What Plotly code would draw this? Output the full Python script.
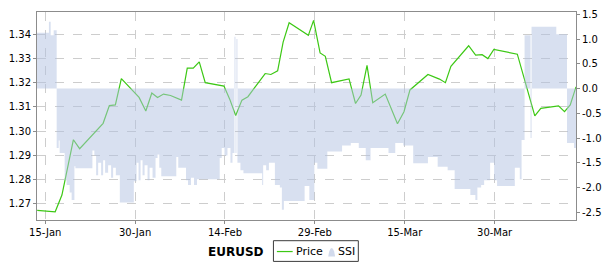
import plotly.graph_objects as go

# ---------------- data ----------------
price_time = [
    "2012-01-13 16:00", "2012-01-16 16:00", "2012-01-17 19:00", "2012-01-19 17:00",
    "2012-01-20 18:00", "2012-01-24 16:00", "2012-01-25 17:00", "2012-01-26 17:00",
    "2012-01-27 17:00", "2012-01-30 16:00", "2012-01-31 19:00", "2012-02-01 19:00",
    "2012-02-02 18:00", "2012-02-03 18:00", "2012-02-04 22:00", "2012-02-06 18:00",
    "2012-02-07 17:00", "2012-02-08 17:00", "2012-02-09 17:00", "2012-02-10 17:00",
    "2012-02-13 20:00", "2012-02-14 19:00", "2012-02-15 19:00", "2012-02-16 20:00",
    "2012-02-17 20:00", "2012-02-20 17:00", "2012-02-21 16:00", "2012-02-22 19:00",
    "2012-02-23 17:00", "2012-02-24 17:00", "2012-02-27 22:00", "2012-02-28 19:00",
    "2012-02-29 21:00", "2012-03-01 18:00", "2012-03-02 19:00", "2012-03-05 17:00",
    "2012-03-06 19:00", "2012-03-07 17:00", "2012-03-08 17:00", "2012-03-09 16:00",
    "2012-03-11 18:00", "2012-03-12 18:00", "2012-03-13 19:00", "2012-03-14 21:00",
    "2012-03-15 21:00", "2012-03-18 21:00", "2012-03-20 19:00", "2012-03-21 19:00",
    "2012-03-22 17:00", "2012-03-25 16:00", "2012-03-26 20:00", "2012-03-27 22:00",
    "2012-03-28 21:00", "2012-03-29 21:00", "2012-04-02 19:00", "2012-04-05 17:00",
    "2012-04-06 17:00", "2012-04-09 16:00", "2012-04-10 16:00", "2012-04-11 15:00",
    "2012-04-12 14:00",
]
price_value = [
    1.2672, 1.2666, 1.2735, 1.2964, 1.2927, 1.3032, 1.3105, 1.3108,
    1.3217, 1.3139, 1.3083, 1.3157, 1.3139, 1.3153, 1.3147, 1.3128,
    1.3260, 1.3260, 1.3286, 1.3200, 1.3186, 1.3132, 1.3064, 1.3128,
    1.3142, 1.3238, 1.3234, 1.3249, 1.3368, 1.3448, 1.3396, 1.3458,
    1.3323, 1.3309, 1.3200, 1.3216, 1.3114, 1.3149, 1.3272, 1.3117,
    1.3153, 1.3094, 1.3030, 1.3080, 1.3170, 1.3234, 1.3215, 1.3200,
    1.3268, 1.3353, 1.3314, 1.3316, 1.3300, 1.3338, 1.3318, 1.3063,
    1.3094, 1.3104, 1.3080, 1.3108, 1.3183,
]

ssi_time = [
    "2012-01-13 15:00", "2012-01-15 15:00", "2012-01-15 22:00", "2012-01-16 10:00",
    "2012-01-16 22:00", "2012-01-17 06:00", "2012-01-17 10:00", "2012-01-18 06:00",
    "2012-01-18 14:00", "2012-01-19 02:00", "2012-01-19 10:00", "2012-01-19 21:00",
    "2012-01-20 01:00", "2012-01-22 21:00", "2012-01-23 05:00", "2012-01-23 12:00",
    "2012-01-23 20:00", "2012-01-24 08:00", "2012-01-24 16:00", "2012-01-25 00:00",
    "2012-01-25 12:00", "2012-01-26 00:00", "2012-01-26 08:00", "2012-01-26 19:00",
    "2012-01-27 11:00", "2012-01-29 19:00", "2012-01-30 06:00", "2012-01-30 14:00",
    "2012-01-30 22:00", "2012-01-31 06:00", "2012-01-31 14:00", "2012-02-01 02:00",
    "2012-02-01 10:00", "2012-02-01 22:00", "2012-02-02 10:00", "2012-02-02 18:00",
    "2012-02-03 01:00", "2012-02-03 09:00", "2012-02-05 21:00", "2012-02-06 05:00",
    "2012-02-07 12:00", "2012-02-07 20:00", "2012-02-08 08:00", "2012-02-08 20:00",
    "2012-02-09 08:00", "2012-02-13 03:00", "2012-02-13 11:00", "2012-02-13 22:00",
    "2012-02-14 10:00", "2012-02-14 22:00", "2012-02-15 06:00", "2012-02-15 14:00",
    "2012-02-15 18:00", "2012-02-15 22:00", "2012-02-16 02:00", "2012-02-16 14:00",
    "2012-02-17 02:00", "2012-02-20 05:00", "2012-02-20 09:00", "2012-02-20 21:00",
    "2012-02-21 08:00", "2012-02-22 08:00", "2012-02-23 04:00", "2012-02-23 12:00",
    "2012-02-23 20:00", "2012-02-27 07:00", "2012-02-28 02:00", "2012-02-28 22:00",
    "2012-02-29 10:00", "2012-03-02 02:00", "2012-03-04 13:00", "2012-03-06 00:00",
    "2012-03-07 08:00", "2012-03-08 12:00", "2012-03-09 07:00", "2012-03-12 07:00",
    "2012-03-13 10:00", "2012-03-14 18:00", "2012-03-16 10:00", "2012-03-18 21:00",
    "2012-03-20 12:00", "2012-03-22 04:00", "2012-03-23 08:00", "2012-03-25 23:00",
    "2012-03-26 19:00", "2012-03-27 03:00", "2012-03-27 18:00", "2012-03-28 06:00",
    "2012-03-29 06:00", "2012-03-29 22:00", "2012-03-30 10:00", "2012-04-02 09:00",
    "2012-04-03 05:00", "2012-04-03 12:00", "2012-04-04 00:00", "2012-04-05 00:00",
    "2012-04-05 04:00", "2012-04-09 07:00", "2012-04-11 02:00", "2012-04-12 06:00",
    "2012-04-12 14:00",
]
ssi_value = [
    1.13, 1.35, 1.08, 1.18,
    -1.20, -1.05, -1.30, -1.85,
    -1.95, -2.10, -2.25, -1.57,
    -1.61, -1.25, -1.35, -1.75,
    -1.50, -1.75, -1.45, -1.70,
    -1.55, -1.80, -1.60, -1.75,
    -2.30, -1.87, -1.50, -1.85,
    -1.45, -1.75, -1.55, -1.85,
    -1.60, -1.80, -1.40, -1.33,
    -1.60, -1.77, -1.38, -1.60,
    -1.85, -1.95, -1.80, -1.95,
    -1.83, -1.40, -1.20, -1.35,
    -1.20, -1.50, -1.30, 1.05,
    -1.30, 1.00, -1.50, -1.65,
    -1.71, -1.95, -1.55, -1.65,
    -1.50, -1.95, -2.00, -2.45,
    -2.27, -1.97, -2.25, -1.50,
    -1.62, -1.27, -1.15, -1.10,
    -1.20, -1.45, -1.20, -1.30,
    -1.10, -1.15, -1.51, -1.38,
    -1.58, -1.65, -2.03, -2.15,
    -2.25, -2.00, -1.95, -1.85,
    -1.50, -1.85, -1.97, -1.60,
    -1.83, -1.04, 1.08, -1.00,
    1.25, 1.10, -1.10, -1.20,
    -1.20,
]

x_tick_vals = ["2012-01-15", "2012-01-30", "2012-02-14", "2012-02-29", "2012-03-15", "2012-03-30"]
x_tick_text = ["15-Jan", "30-Jan", "14-Feb", "29-Feb", "15-Mar", "30-Mar"]
price_ticks = [1.27, 1.28, 1.29, 1.30, 1.31, 1.32, 1.33, 1.34]
ssi_ticks = [-2.5, -2.0, -1.5, -1.0, -0.5, 0.0, 0.5, 1.0, 1.5]

symbol_name = "EURUSD"
series_names = ["Price", "SSI"]

# ---------------- styling ----------------
GREEN = "rgb(60,200,20)"
FILL = "rgba(178,194,226,0.5)"
AXIS = "rgb(140,140,140)"
GRID = "rgb(205,205,205)"
FONT = "DejaVu Sans"

fig = go.Figure()
fig.add_trace(go.Scatter(
    x=ssi_time, y=ssi_value, name=series_names[1], yaxis="y2",
    mode="lines", line=dict(width=0, shape="hv"),
    fill="tozeroy", fillcolor=FILL, showlegend=False, hoverinfo="skip",
))
fig.add_trace(go.Scatter(
    x=price_time, y=price_value, name=series_names[0], yaxis="y",
    mode="lines", line=dict(color=GREEN, width=1.2), showlegend=False,
))

W, H = 611, 267
L, R, T, B = 34, 31, 9, 47
pw, ph = W - L - R, H - T - B

def px(xp):
    return (xp - L) / pw

def py(yp):
    return (H - B - yp) / ph

fig.update_layout(
    width=W, height=H,
    margin=dict(l=L, r=R, t=T, b=B, pad=0),
    paper_bgcolor="white", plot_bgcolor="white",
    font=dict(family=FONT, size=10, color="black"),
    showlegend=False,
    xaxis=dict(
        type="date", range=["2012-01-13 15:10", "2012-04-12 14:00"],
        tickvals=x_tick_vals, ticktext=x_tick_text,
        showgrid=True, gridcolor=GRID, griddash="dash", gridwidth=1,
        showline=True, linecolor=AXIS, linewidth=1, mirror=True,
        ticks="outside", ticklen=3, tickcolor=AXIS,
        zeroline=False, tickfont=dict(size=10),
    ),
    yaxis=dict(
        range=[1.26319, 1.34926],
        tickvals=price_ticks, ticktext=[f"{v:.2f}" for v in price_ticks],
        showgrid=True, gridcolor=GRID, griddash="dash", gridwidth=1,
        showline=True, linecolor=AXIS, linewidth=1, mirror=True,
        ticks="outside", ticklen=3, tickcolor=AXIS,
        zeroline=False, tickfont=dict(size=10),
    ),
    yaxis2=dict(
        overlaying="y", side="right",
        range=[-2.655, 1.548],
        tickvals=ssi_ticks, ticktext=[f"{v:.1f}".replace("\u2212", "-") for v in ssi_ticks],
        showgrid=False, zeroline=False,
        showline=True, linecolor=AXIS, linewidth=1,
        ticks="outside", ticklen=3, tickcolor=AXIS,
        tickfont=dict(size=10),
    ),
)

# ---- legend (drawn below the plot like the original) ----
shapes = [
    dict(type="rect", xref="paper", yref="paper",
         x0=px(273.5), x1=px(359.5), y0=py(262), y1=py(241),
         line=dict(color="rgb(60,60,60)", width=1), fillcolor="white"),
    dict(type="line", xref="paper", yref="paper",
         x0=px(277), x1=px(293), y0=py(252), y1=py(252),
         line=dict(color=GREEN, width=1.2)),
    dict(type="path", xref="paper", yref="paper",
         path=(f"M {px(329)},{py(257)} L {px(330)},{py(252)} Q {px(332.5)},{py(245)} {px(335)},{py(252)} "
               f"L {px(336)},{py(257)} Z"),
         line=dict(width=0), fillcolor="rgb(210,218,236)"),
]
fig.update_layout(shapes=shapes)

annotations = [
    dict(text=f"<b>{symbol_name}</b>", xref="paper", yref="paper",
         x=px(205), y=py(252), xanchor="left", yanchor="middle",
         showarrow=False, font=dict(family=FONT, size=12, color="black")),
    dict(text=series_names[0], xref="paper", yref="paper",
         x=px(294.5), y=py(252), xanchor="left", yanchor="middle",
         showarrow=False, font=dict(family=FONT, size=11, color="black")),
    dict(text=series_names[1], xref="paper", yref="paper",
         x=px(336.5), y=py(252), xanchor="left", yanchor="middle",
         showarrow=False, font=dict(family=FONT, size=11, color="black")),
]
fig.update_layout(annotations=annotations)

fig.write_html("out.html")
